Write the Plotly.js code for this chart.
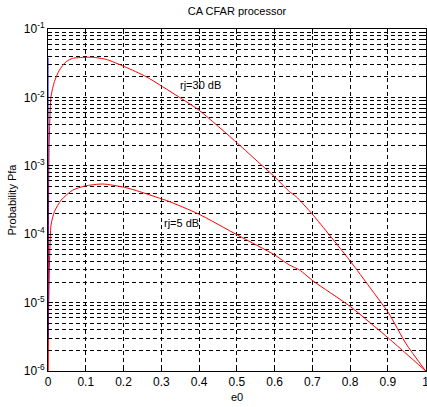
<!DOCTYPE html>
<html>
<head>
<meta charset="utf-8">
<script src="https://cdn.plot.ly/plotly-3.0.1.min.js"></script>
<style>html,body{margin:0;padding:0;background:#fff;}#chart{width:427px;height:407px;}</style>
</head>
<body>
<div id="chart"></div>
<script>
// e0 sample points and Pfa
const e0_30 = [0, 0.001, 0.003, 0.008, 0.017, 0.03, 0.048, 0.065, 0.098, 0.118, 0.154, 0.203, 0.26, 0.296, 0.331, 0.399, 0.502, 0.56, 0.6, 0.639, 0.657, 0.702, 0.801, 0.851, 0.902, 0.948, 1.0];
const pfa_30 = [1e-6, 1e-4, 2e-3, 0.0103, 0.017, 0.025, 0.0333, 0.0372, 0.0386, 0.0386, 0.036, 0.0281, 0.0201, 0.0152, 0.0115, 0.00655, 0.00213, 0.00109, 0.00069, 0.00042, 0.000355, 0.00019, 4e-5, 1.7e-5, 7e-6, 2.5e-6, 1e-6];
const e0_5 = [0, 0.002, 0.008, 0.017, 0.035, 0.065, 0.098, 0.145, 0.203, 0.243, 0.296, 0.318, 0.399, 0.502, 0.6, 0.639, 0.666, 0.702, 0.801, 0.902, 0.948, 1.0];
const pfa_5 = [1e-6, 1e-5, 1.36e-4, 2.14e-4, 3.16e-4, 4.4e-4, 5.07e-4, 5.42e-4, 4.84e-4, 4.19e-4, 3.35e-4, 3.05e-4, 1.97e-4, 9.7e-5, 4.97e-5, 3.55e-5, 3e-5, 2.07e-5, 8.7e-6, 3e-6, 1.8e-6, 1e-6];
const e0_blue = [0, 0];
const pfa_blue = [3e-6, 0.038];
const xTickVals = [0, 0.1, 0.2, 0.3, 0.4, 0.5, 0.6, 0.7, 0.8, 0.9, 1];
const xTickText = ['0', '0.1', '0.2', '0.3', '0.4', '0.5', '0.6', '0.7', '0.8', '0.9', '1'];
const yTickVals = [1e-6, 1e-5, 1e-4, 1e-3, 1e-2, 1e-1];
const yTickText = ['10<sup>-6</sup>', '10<sup>-5</sup>', '10<sup>-4</sup>', '10<sup>-3</sup>', '10<sup>-2</sup>', '10<sup>-1</sup>'];
const labels = [
  {text: 'rj=30 dB', x: 0.343, y: 0.0152},
  {text: 'rj=5 dB', x: 0.303, y: 1.46e-4}
];

const font = {family: 'Liberation Sans, Arial, sans-serif', size: 11, color: '#000'};
const tickFont = {family: 'Liberation Sans, Arial, sans-serif', size: 12, color: '#000'};

const traces = [
  {x: e0_30, y: pfa_30, mode: 'lines', line: {color: '#ff0000', width: 1, shape: 'spline', smoothing: 0.6}},
  {x: e0_5, y: pfa_5, mode: 'lines', line: {color: '#ff0000', width: 1, shape: 'spline', smoothing: 0.6}},
  {x: e0_blue, y: pfa_blue, mode: 'lines', line: {color: '#0000ff', width: 1}, hoverinfo: 'skip'}
];

const gridDash = '4px,3px';
const layout = {
  width: 427, height: 407,
  margin: {l: 48, r: 1, t: 29, b: 36},
  paper_bgcolor: '#fff', plot_bgcolor: '#fff',
  showlegend: false,
  font: font,
  title: {text: 'CA CFAR processor', font: font, x: 0.555, xanchor: 'center', y: 0.972, yanchor: 'middle'},
  xaxis: {
    range: [0, 1.0008], tickmode: 'array', tickvals: xTickVals, ticktext: xTickText,
    showgrid: true, gridcolor: '#000', griddash: gridDash, gridwidth: 1,
    ticks: 'inside', ticklen: 5, tickcolor: '#000', mirror: 'ticks',
    showline: true, linecolor: '#000', linewidth: 1, zeroline: false,
    tickfont: tickFont, ticklabeloverflow: 'allow',
    title: {text: 'e0', font: font, standoff: 4}
  },
  yaxis: {
    type: 'log', range: [-6, -1], tickmode: 'array', tickvals: yTickVals, ticktext: yTickText,
    showgrid: true, gridcolor: '#000', griddash: gridDash, gridwidth: 1,
    ticks: 'inside', ticklen: 5, tickcolor: '#000', mirror: 'ticks',
    showline: true, linecolor: '#000', linewidth: 1, zeroline: false,
    tickfont: tickFont,
    minor: {dtick: 'D1', showgrid: true, gridcolor: '#000', griddash: gridDash, gridwidth: 1, ticks: 'inside', ticklen: 3, tickcolor: '#000'},
    title: {text: 'Probability Pfa', font: font, standoff: 4}
  },
  annotations: labels.map(l => ({text: l.text, x: l.x, y: Math.log10(l.y), xref: 'x', yref: 'y', xanchor: 'left', yanchor: 'middle', showarrow: false, font: font}))
};

Plotly.newPlot('chart', traces, layout, {staticPlot: true, displayModeBar: false});
</script>
</body>
</html>
